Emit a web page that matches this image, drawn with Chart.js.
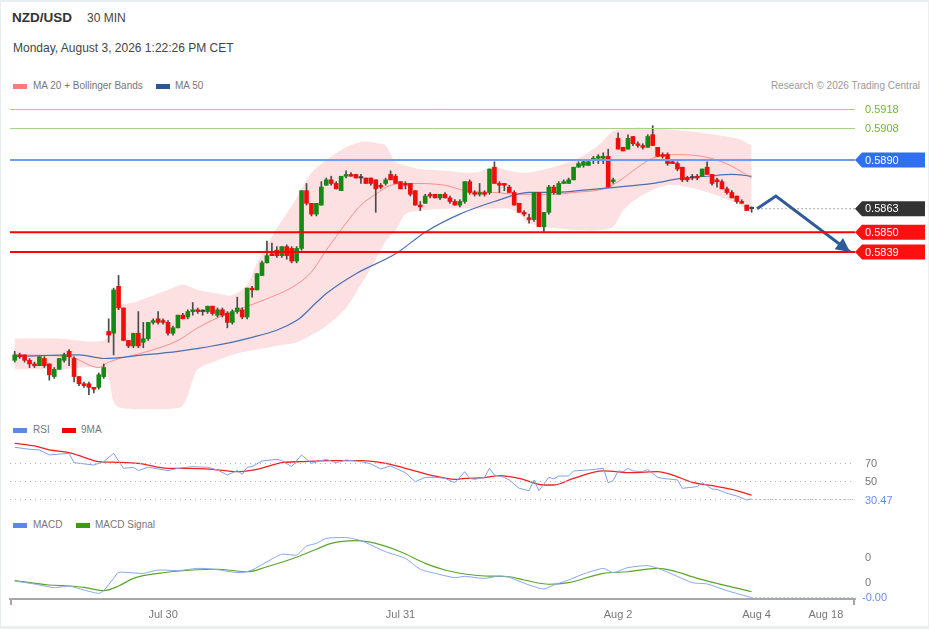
<!DOCTYPE html>
<html>
<head>
<meta charset="utf-8">
<script src="https://cdn.jsdelivr.net/npm/chart.js@4.4.1/dist/chart.umd.min.js"></script>
<style>
  body { margin: 0; background: #e9eef1; font-family: "Liberation Sans", Arial, sans-serif; }
  #frame { position: absolute; left: 1px; top: 2px; width: 927px; height: 624px; background: #fff; }
  #page { position: absolute; left: 0; top: 0; width: 929px; height: 629px; }
  .txt { position: absolute; white-space: nowrap; line-height: 1; }
  .sw { position: absolute; width: 14px; height: 5px; }
  canvas { position: absolute; left: 0; }
</style>
</head>
<body>
<div id="frame"></div>
<div id="page">
  <div class="txt" style="left:12px;top:11px;font-size:13.5px;font-weight:bold;color:#333">NZD/USD</div>
  <div class="txt" style="left:87px;top:12px;font-size:12px;color:#444">30 MIN</div>
  <div class="txt" style="left:13px;top:42px;font-size:12px;color:#444">Monday, August 3, 2026 1:22:26 PM CET</div>

  <div class="sw" style="left:13px;top:84px;background:#ff7b7b"></div>
  <div class="txt" style="left:33px;top:81px;font-size:10px;color:#777">MA 20 + Bollinger Bands</div>
  <div class="sw" style="left:156px;top:84px;background:#2f5597"></div>
  <div class="txt" style="left:175px;top:81px;font-size:10px;color:#777">MA 50</div>
  <div class="txt" style="right:9px;top:81px;font-size:10px;color:#999">Research © 2026 Trading Central</div>

  <canvas id="mainChart" width="929" height="318" style="top:97px"></canvas>

  <div class="sw" style="left:13px;top:428px;background:#5b87ea"></div>
  <div class="txt" style="left:33px;top:425px;font-size:10px;color:#777">RSI</div>
  <div class="sw" style="left:62px;top:428px;background:#ff0000"></div>
  <div class="txt" style="left:81px;top:425px;font-size:10px;color:#777">9MA</div>

  <canvas id="rsiChart" width="929" height="67" style="top:438px"></canvas>

  <div class="sw" style="left:13px;top:523px;background:#5b87ea"></div>
  <div class="txt" style="left:33px;top:520px;font-size:10px;color:#777">MACD</div>
  <div class="sw" style="left:76px;top:523px;background:#3c9a0e"></div>
  <div class="txt" style="left:95px;top:520px;font-size:10px;color:#777">MACD Signal</div>

  <canvas id="macdChart" width="929" height="92" style="top:535px"></canvas>
</div>
<script>
// ---- data (30 min candles, index 0..149) ----
const open = [
  0.5779,0.5782,0.5782,0.5779,0.5777,0.5776,0.5780,0.5777,0.5770,0.5774,
  0.5779,0.5784,0.5780,0.5770,0.5766,0.5766,0.5764,0.5764,0.5770,0.5795,
  0.5794,0.5820,0.5808,0.5790,0.5787,0.5794,0.5789,0.5791,0.5800,0.5802,
  0.5801,0.5800,0.5794,0.5797,0.5804,0.5803,0.5806,0.5807,0.5806,0.5806,
  0.5809,0.5804,0.5807,0.5805,0.5800,0.5806,0.5807,0.5803,0.5819,0.5818,
  0.5826,0.5833,0.5838,0.5840,0.5837,0.5842,0.5841,0.5834,0.5841,0.5873,
  0.5866,0.5860,0.5865,0.5876,0.5879,0.5877,0.5873,0.5881,0.5882,0.5882,
  0.5880,0.5880,0.5880,0.5879,0.5876,0.5877,0.5882,0.5881,0.5878,0.5877,
  0.5877,0.5873,0.5865,0.5866,0.5871,0.5871,0.5869,0.5871,0.5869,0.5867,
  0.5865,0.5867,0.5878,0.5872,0.5871,0.5872,0.5872,0.5886,0.5877,0.5877,
  0.5875,0.5872,0.5866,0.5861,0.5858,0.5857,0.5872,0.5853,0.5861,0.5875,
  0.5871,0.5877,0.5877,0.5879,0.5886,0.5887,0.5887,0.5890,0.5891,0.5891,
  0.5892,0.5878,0.5902,0.5897,0.5896,0.5903,0.5899,0.5898,0.5897,0.5904,
  0.5897,0.5893,0.5893,0.5889,0.5888,0.5886,0.5880,0.5880,0.5881,0.5881,
  0.5886,0.5882,0.5879,0.5878,0.5874,0.5872,0.5870,0.5867,0.5865,0.5863
];
const high = [
  0.5784,0.5783,0.5782,0.5780,0.5778,0.5781,0.5781,0.5777,0.5775,0.5780,
  0.5783,0.5785,0.5781,0.5770,0.5767,0.5767,0.5764,0.5772,0.5777,0.5802,
  0.5819,0.5826,0.5808,0.5790,0.5794,0.5806,0.5800,0.5800,0.5802,0.5806,
  0.5802,0.5801,0.5798,0.5804,0.5805,0.5807,0.5811,0.5808,0.5807,0.5809,
  0.5809,0.5808,0.5808,0.5806,0.5807,0.5814,0.5808,0.5819,0.5820,0.5827,
  0.5834,0.5845,0.5844,0.5842,0.5842,0.5843,0.5842,0.5842,0.5873,0.5877,
  0.5866,0.5866,0.5878,0.5880,0.5881,0.5878,0.5881,0.5884,0.5883,0.5882,
  0.5882,0.5880,0.5880,0.5879,0.5877,0.5880,0.5884,0.5882,0.5878,0.5878,
  0.5877,0.5873,0.5867,0.5871,0.5872,0.5871,0.5871,0.5872,0.5870,0.5868,
  0.5868,0.5878,0.5879,0.5873,0.5877,0.5873,0.5885,0.5889,0.5878,0.5877,
  0.5876,0.5873,0.5866,0.5862,0.5860,0.5872,0.5872,0.5861,0.5876,0.5876,
  0.5878,0.5879,0.5880,0.5886,0.5889,0.5890,0.5890,0.5892,0.5893,0.5894,
  0.5896,0.5880,0.5905,0.5897,0.5904,0.5903,0.5900,0.5899,0.5904,0.5909,
  0.5897,0.5894,0.5894,0.5890,0.5889,0.5886,0.5881,0.5882,0.5882,0.5885,
  0.5889,0.5882,0.5880,0.5879,0.5875,0.5873,0.5870,0.5868,0.5865,0.5864
];
const low = [
  0.5778,0.5780,0.5778,0.5775,0.5775,0.5776,0.5775,0.5768,0.5769,0.5774,
  0.5778,0.5776,0.5767,0.5765,0.5764,0.5760,0.5761,0.5763,0.5769,0.5789,
  0.5782,0.5807,0.5790,0.5786,0.5786,0.5786,0.5786,0.5790,0.5799,0.5799,
  0.5799,0.5793,0.5793,0.5797,0.5802,0.5802,0.5804,0.5805,0.5804,0.5805,
  0.5804,0.5803,0.5803,0.5797,0.5799,0.5805,0.5802,0.5802,0.5814,0.5818,
  0.5826,0.5833,0.5837,0.5836,0.5836,0.5835,0.5833,0.5833,0.5840,0.5865,
  0.5859,0.5859,0.5865,0.5876,0.5876,0.5874,0.5873,0.5880,0.5881,0.5880,
  0.5877,0.5877,0.5876,0.5861,0.5874,0.5876,0.5879,0.5877,0.5874,0.5874,
  0.5870,0.5865,0.5862,0.5866,0.5869,0.5869,0.5868,0.5869,0.5866,0.5865,
  0.5864,0.5866,0.5871,0.5870,0.5870,0.5870,0.5871,0.5877,0.5872,0.5873,
  0.5872,0.5865,0.5861,0.5859,0.5855,0.5856,0.5853,0.5850,0.5860,0.5871,
  0.5871,0.5877,0.5877,0.5879,0.5886,0.5886,0.5887,0.5888,0.5888,0.5888,
  0.5875,0.5877,0.5896,0.5895,0.5896,0.5898,0.5897,0.5896,0.5897,0.5898,
  0.5892,0.5891,0.5887,0.5888,0.5884,0.5878,0.5878,0.5879,0.5879,0.5881,
  0.5882,0.5876,0.5875,0.5874,0.5871,0.5869,0.5866,0.5866,0.5862,0.5861
];
const close = [
  0.5782,0.5781,0.5779,0.5777,0.5776,0.5781,0.5776,0.5771,0.5774,0.5780,
  0.5782,0.5781,0.5770,0.5766,0.5765,0.5764,0.5763,0.5771,0.5775,0.5793,
  0.5818,0.5808,0.5790,0.5787,0.5794,0.5787,0.5791,0.5800,0.5801,0.5800,
  0.5800,0.5794,0.5797,0.5804,0.5802,0.5806,0.5807,0.5806,0.5806,0.5809,
  0.5805,0.5807,0.5804,0.5800,0.5806,0.5808,0.5803,0.5819,0.5818,0.5827,
  0.5833,0.5837,0.5837,0.5837,0.5842,0.5837,0.5834,0.5841,0.5873,0.5866,
  0.5860,0.5866,0.5875,0.5879,0.5877,0.5874,0.5881,0.5882,0.5881,0.5880,
  0.5880,0.5877,0.5877,0.5874,0.5875,0.5879,0.5879,0.5877,0.5874,0.5876,
  0.5871,0.5865,0.5864,0.5870,0.5870,0.5869,0.5871,0.5869,0.5867,0.5865,
  0.5867,0.5878,0.5872,0.5871,0.5872,0.5871,0.5885,0.5877,0.5876,0.5876,
  0.5872,0.5865,0.5861,0.5860,0.5857,0.5872,0.5853,0.5861,0.5875,0.5872,
  0.5877,0.5878,0.5879,0.5886,0.5888,0.5889,0.5889,0.5891,0.5892,0.5892,
  0.5875,0.5879,0.5896,0.5895,0.5902,0.5899,0.5898,0.5897,0.5903,0.5898,
  0.5892,0.5892,0.5888,0.5888,0.5885,0.5879,0.5879,0.5880,0.5880,0.5885,
  0.5882,0.5877,0.5878,0.5874,0.5872,0.5869,0.5867,0.5866,0.5862,0.5863
];

// Bollinger bands, read at these candle indices
const bandIdx = [0,9,18,20,21,24,27,31,34,36,37,41,44,47,49,53,57,60,63,67,70,72,74,75,77,79,82,87,93,97,100,102,104,110,114,118,121,123,126,132,139,146,149];
const bbUpper = [0.5791,0.5791,0.5790,0.5799,0.5809,0.5811,0.5814,0.5818,0.5821,0.5819,0.5818,0.5816,0.5815,0.5821,0.5833,0.5852,0.5869,0.5883,0.5890,0.5897,0.5900,0.5900,0.5899,0.5898,0.5889,0.5887,0.5885,0.5884,0.5883,0.5886,0.5884,0.5883,0.5883,0.5887,0.5891,0.5898,0.5906,0.5907,0.5908,0.5907,0.5905,0.5902,0.5898];
const bbLower = [0.5774,0.5774,0.5774,0.5756,0.5753,0.5752,0.5752,0.5752,0.5754,0.5768,0.5774,0.5779,0.5782,0.5784,0.5785,0.5787,0.5789,0.5793,0.5798,0.5808,0.5821,0.5830,0.5840,0.5845,0.5851,0.5860,0.5862,0.5863,0.5863,0.5863,0.5863,0.5860,0.5855,0.5852,0.5851,0.5851,0.5853,0.5862,0.5869,0.5876,0.5873,0.5866,0.5861];

// moving averages: [candle index, value]
const ma20 = [[0,0.5782],[11,0.5781],[17,0.5775],[19,0.5778],[27,0.5784],[33,0.5790],[37,0.5797],[43,0.5805],[50,0.5812],[57,0.5821],[60,0.5828],[63,0.5840],[67,0.5855],[70,0.5865],[73,0.5871],[76,0.5876],[80,0.5877],[87,0.5876],[91,0.5873],[97,0.5872],[102,0.5871],[109,0.5871],[113,0.5872],[119,0.5874],[122,0.5878],[126,0.5886],[129,0.5891],[133,0.5893],[139,0.5892],[143,0.5889],[146,0.5885],[149,0.5880]];
const ma50 = [[0,0.5781],[13,0.5782],[18,0.5780],[26,0.5782],[33,0.5784],[38,0.5786],[47,0.5791],[57,0.5801],[61,0.5811],[63,0.5816],[69,0.5827],[77,0.5838],[83,0.5850],[90,0.5860],[97,0.5867],[104,0.5872],[109,0.5872],[114,0.5873],[122,0.5875],[129,0.5877],[135,0.5880],[140,0.5881],[145,0.5882],[149,0.5881]];

// RSI and its 9 period average
const rsi = [[0,87.8],[3,85.6],[5,84.8],[7,79.3],[11,81.1],[12,70.7],[16,68.1],[18,71.9],[20,81.1],[22,64.4],[24,65.6],[25,61.9],[27,65.6],[31,61.9],[33,64.4],[36,66.3],[39,65.6],[41,62.6],[43,57.0],[45,61.9],[46,57.8],[47,65.6],[48,66.3],[50,72.6],[53,74.4],[54,73.0],[56,66.3],[58,79.3],[60,70.0],[63,74.4],[65,70.7],[67,73.7],[70,71.9],[72,69.3],[74,63.7],[76,67.0],[79,59.6],[81,49.6],[83,54.4],[85,54.4],[87,53.3],[89,48.5],[91,60.7],[92,53.3],[93,52.2],[95,54.4],[96,64.4],[97,57.0],[99,54.4],[100,51.5],[102,42.2],[104,39.6],[105,51.5],[106,39.6],[108,54.4],[109,52.6],[110,55.9],[112,55.9],[113,61.5],[116,62.6],[119,64.4],[120,48.5],[121,50.7],[122,61.5],[123,60.7],[124,64.4],[125,61.5],[127,60.7],[128,63.3],[130,54.4],[131,53.3],[134,51.5],[135,42.2],[138,44.1],[139,48.5],[141,41.5],[142,41.1],[144,36.7],[146,33.7],[148,29.3],[149,30.47]];
const rsiMa = [[0,92.2],[4,89.3],[7,84.8],[11,81.9],[14,76.7],[17,71.9],[21,71.1],[25,70.0],[31,64.4],[35,64.4],[40,63.3],[45,60.7],[49,63.3],[54,70.7],[58,71.9],[64,73.0],[70,73.0],[75,70.0],[79,64.4],[84,57.0],[89,52.2],[91,53.3],[95,54.1],[98,56.3],[102,53.3],[107,45.9],[109,45.9],[113,53.3],[119,61.5],[125,59.6],[130,60.7],[133,57.0],[137,48.9],[141,45.2],[145,41.1],[149,34.8]];
const rsiLevels = [70, 50, 30];

// MACD and signal
const macd = [[0,0.000016],[4,-0.000008],[8,-0.000037],[11,-0.000024],[14,-0.000056],[17,-0.000083],[18,-0.000061],[20,0.000037],[21,0.000085],[26,0.000077],[29,0.000104],[33,0.000099],[37,0.000117],[40,0.000112],[44,0.000088],[46,0.000083],[48,0.000104],[51,0.00017],[54,0.00023],[57,0.000224],[59,0.000296],[61,0.000317],[63,0.000357],[67,0.000363],[70,0.000339],[75,0.00025],[79,0.000197],[82,0.00011],[85,0.000077],[89,0.000043],[91,0.000053],[95,0.000037],[98,0.000056],[100,0.000045],[104,-0.000016],[107,-0.000048],[109,-0.000016],[112,0.000024],[115,0.000072],[119,0.000117],[121,0.000083],[124,0.000123],[128,0.000139],[131,0.000104],[137,0.000003],[140,-0.000008],[144,-0.000061],[149,-0.000117]];
const macdSignal = [[0,0.000019],[7,-0.000016],[11,-0.000024],[14,-0.000035],[18,-0.000061],[21,-0.000024],[24,0.000037],[29,0.000077],[36,0.000104],[41,0.00011],[47,0.00009],[51,0.00013],[56,0.000192],[61,0.00027],[64,0.000317],[69,0.000339],[73,0.000317],[78,0.00025],[83,0.000157],[87,0.000104],[91,0.000072],[95,0.000056],[100,0.00005],[103,0.000024],[108,-0.00001],[112,0.000003],[119,0.000077],[124,0.00009],[130,0.000117],[133,0.000099],[138,0.000037],[149,-0.00007]];
const macdTicks = [0.0002, 0];

// levels, forecast and time axis
const greenLevels = [0.5918, 0.5908];
const blueLevel = 0.5890;
const redLevels = [0.5850, 0.5839];
const lastPrice = 0.5863;
const forecastIdx = [150.1, 153.9, 168.9];
const forecastPrice = [0.5863, 0.5870, 0.5839];
const tickPos = [30, 78, 122, 150, 164];
const tickText = ["Jul 30", "Jul 31", "Aug 2", "Aug 4", "Aug 18"];

const X_MIN = -0.95;
const X_MAX = 169.9;
const PAD = { left: 10, right: 74, top: 0, bottom: 0 };

Chart.defaults.font.family = "'Liberation Sans', Arial, sans-serif";
Chart.defaults.animation = false;

const pts = (pairs) => pairs.map((p) => ({ x: p[0], y: p[1] }));
const hidden = { type: "linear", min: X_MIN, max: X_MAX, display: false };

const hLine = function (ctx, x1, x2, y, color, width, dash) {
  ctx.save();
  ctx.strokeStyle = color;
  ctx.lineWidth = width;
  ctx.setLineDash(dash || []);
  ctx.beginPath();
  ctx.moveTo(x1, y);
  ctx.lineTo(x2, y);
  ctx.stroke();
  ctx.restore();
};

const tag = function (ctx, x, y, bg, text) {
  ctx.beginPath();
  ctx.moveTo(x, y);
  ctx.lineTo(x + 7, y - 7.5);
  ctx.lineTo(925, y - 7.5);
  ctx.lineTo(925, y + 7.5);
  ctx.lineTo(x + 7, y + 7.5);
  ctx.closePath();
  ctx.fillStyle = bg;
  ctx.fill();
  ctx.fillStyle = "#fff";
  ctx.fillText(text, x + 10, y + 0.5);
};

const mainDecor = {
  id: "mainDecor",
  afterDatasetsDraw(chart) {
    const { ctx, chartArea: a, scales } = chart;
    const y = scales.y;
    const x = scales.x;
    ctx.save();
    ctx.font = "11px 'Liberation Sans', Arial, sans-serif";
    ctx.textBaseline = "middle";
    greenLevels.forEach((v) => {
      const py = Math.round(y.getPixelForValue(v)) + 0.5;
      hLine(ctx, a.left, a.right, py, "#a6d189", 1);
      ctx.fillStyle = "#76b52c";
      ctx.fillText(v.toFixed(4), a.right + 10, py);
    });
    const pb = y.getPixelForValue(blueLevel);
    hLine(ctx, a.left, a.right, pb, "#6f9cf2", 2);
    tag(ctx, a.right, pb, "#2f6ff0", blueLevel.toFixed(4));
    redLevels.forEach((v) => {
      const py = y.getPixelForValue(v);
      hLine(ctx, a.left, a.right, py, "#ff0000", 2);
      tag(ctx, a.right, py, "#ff1010", v.toFixed(4));
    });
    const pl = y.getPixelForValue(lastPrice);
    hLine(ctx, x.getPixelForValue(close.length + 0.2), a.right, pl, "#555", 1, [1, 3]);
    tag(ctx, a.right, pl, "#333", lastPrice.toFixed(4));

    // forecast arrow head
    const n = forecastIdx.length;
    const x1 = x.getPixelForValue(forecastIdx[n - 2]);
    const y1 = y.getPixelForValue(forecastPrice[n - 2]);
    const x2 = x.getPixelForValue(forecastIdx[n - 1]);
    const y2 = y.getPixelForValue(forecastPrice[n - 1]);
    const ang = Math.atan2(y2 - y1, x2 - x1);
    const len = 14;
    const half = 7;
    const bx = x2 - len * Math.cos(ang);
    const by = y2 - len * Math.sin(ang);
    ctx.beginPath();
    ctx.moveTo(x2, y2);
    ctx.lineTo(bx + half * Math.sin(ang), by - half * Math.cos(ang));
    ctx.lineTo(bx - half * Math.sin(ang), by + half * Math.cos(ang));
    ctx.closePath();
    ctx.fillStyle = "#2f5b9a";
    ctx.fill();
    ctx.restore();
  },
};

const bodyColor = close.map((c, i) => (c > open[i] ? "#148a14" : c < open[i] ? "#f20c0c" : "#444"));

new Chart(document.getElementById("mainChart"), {
  type: "bar",
  data: {
    datasets: [
      {
        type: "line",
        label: "BB upper",
        data: bandIdx.map((v, i) => ({ x: v, y: bbUpper[i] })),
        borderColor: "transparent",
        borderWidth: 0,
        pointRadius: 0,
        tension: 0.3,
        fill: "+1",
        backgroundColor: "#fde1e2",
        order: 10,
      },
      {
        type: "line",
        label: "BB lower",
        data: bandIdx.map((v, i) => ({ x: v, y: bbLower[i] })),
        borderColor: "transparent",
        borderWidth: 0,
        pointRadius: 0,
        tension: 0.3,
        fill: false,
        order: 10,
      },
      {
        type: "line",
        label: "MA 50",
        data: pts(ma50),
        borderColor: "#4a6fb3",
        borderWidth: 1.2,
        pointRadius: 0,
        cubicInterpolationMode: "monotone",
        order: 6,
      },
      {
        type: "line",
        label: "MA 20",
        data: pts(ma20),
        borderColor: "#ff8c8c",
        borderWidth: 1,
        pointRadius: 0,
        cubicInterpolationMode: "monotone",
        order: 6,
      },
      {
        label: "wick",
        data: low.map((l, i) => ({ x: i, y: [l, high[i]] })),
        backgroundColor: "#4a4a4a",
        barThickness: 1,
        grouped: false,
        order: 4,
      },
      {
        label: "body",
        data: open.map((o, i) => ({ x: i, y: [o, close[i]] })),
        backgroundColor: bodyColor,
        barThickness: 4,
        minBarLength: 1.5,
        grouped: false,
        order: 3,
      },
      {
        type: "line",
        label: "forecast",
        data: forecastIdx.map((v, i) => ({ x: v, y: forecastPrice[i] })),
        borderColor: "#2f5b9a",
        borderWidth: 3,
        pointRadius: 0,
        tension: 0,
        order: 1,
      },
    ],
  },
  options: {
    responsive: false,
    layout: { padding: PAD },
    plugins: { legend: { display: false }, tooltip: { enabled: false } },
    scales: {
      x: { ...hidden, offset: false },
      y: { type: "linear", min: 0.57487, max: 0.59249, display: false },
    },
  },
  plugins: [mainDecor],
});

const rsiDecor = {
  id: "rsiDecor",
  afterDatasetsDraw(chart) {
    const { ctx, chartArea: a, scales } = chart;
    ctx.save();
    ctx.font = "11px 'Liberation Sans', Arial, sans-serif";
    ctx.textBaseline = "middle";
    rsiLevels.forEach((v) => {
      const py = Math.round(scales.y.getPixelForValue(v)) + 0.5;
      hLine(ctx, a.left, a.right, py, "#b5b5b5", 1, [1, 4]);
      if (v !== 30) {
        ctx.fillStyle = "#777";
        ctx.fillText(String(v), a.right + 10, py);
      }
    });
    const last = rsi[rsi.length - 1];
    const py = Math.round(scales.y.getPixelForValue(last[1])) + 0.5;
    hLine(ctx, scales.x.getPixelForValue(last[0]), a.right, py, "#7b9bef", 1, [1, 3]);
    ctx.fillStyle = "#6a8cf0";
    ctx.fillText(last[1].toFixed(2), a.right + 10, py + 1);
    ctx.restore();
  },
};

new Chart(document.getElementById("rsiChart"), {
  type: "line",
  data: {
    datasets: [
      {
        label: "RSI",
        data: pts(rsi),
        borderColor: "#7fa0ee",
        borderWidth: 1,
        pointRadius: 0,
        tension: 0,
      },
      {
        label: "9MA",
        data: pts(rsiMa),
        borderColor: "#f32020",
        borderWidth: 1.3,
        pointRadius: 0,
        cubicInterpolationMode: "monotone",
      },
    ],
  },
  options: {
    responsive: false,
    layout: { padding: PAD },
    plugins: { legend: { display: false }, tooltip: { enabled: false } },
    scales: {
      x: hidden,
      y: { type: "linear", min: 23.7, max: 98.1, display: false },
    },
  },
  plugins: [rsiDecor],
});

const macdDecor = {
  id: "macdDecor",
  afterDraw(chart) {
    const { ctx, chartArea: a, scales } = chart;
    ctx.save();
    ctx.font = "11px 'Liberation Sans', Arial, sans-serif";
    ctx.textBaseline = "middle";
    macdTicks.forEach((v) => {
      ctx.fillStyle = "#777";
      ctx.fillText(v.toFixed(0), a.right + 10, scales.y.getPixelForValue(v));
    });
    const last = macd[macd.length - 1];
    const py = scales.y.getPixelForValue(last[1]);
    hLine(ctx, scales.x.getPixelForValue(last[0]), a.right, py, "#7b9bef", 1, [1, 3]);
    ctx.fillStyle = "#6a8cf0";
    ctx.fillText(last[1].toFixed(2), a.right + 7, py);
    // end ticks of the time axis
    ctx.strokeStyle = "#a8a8a8";
    ctx.lineWidth = 2;
    ctx.beginPath();
    ctx.moveTo(a.left + 1, a.bottom);
    ctx.lineTo(a.left + 1, a.bottom + 6);
    ctx.moveTo(a.right - 1, a.bottom);
    ctx.lineTo(a.right - 1, a.bottom + 6);
    ctx.stroke();
    ctx.restore();
  },
};

new Chart(document.getElementById("macdChart"), {
  type: "line",
  data: {
    datasets: [
      {
        label: "MACD",
        data: pts(macd),
        borderColor: "#86a6ee",
        borderWidth: 1,
        pointRadius: 0,
        tension: 0.2,
      },
      {
        label: "MACD Signal",
        data: pts(macdSignal),
        borderColor: "#5aa62a",
        borderWidth: 1.2,
        pointRadius: 0,
        cubicInterpolationMode: "monotone",
      },
    ],
  },
  options: {
    responsive: false,
    layout: { padding: PAD },
    plugins: { legend: { display: false }, tooltip: { enabled: false } },
    scales: {
      x: {
        type: "linear",
        min: X_MIN,
        max: X_MAX,
        grid: { display: false, drawTicks: false },
        border: { display: true, color: "#a8a8a8", width: 2 },
        ticks: {
          color: "#777",
          font: { size: 11 },
          padding: 9,
          autoSkip: false,
          maxRotation: 0,
          callback: (v) => {
            const k = tickPos.indexOf(v);
            return k >= 0 ? tickText[k] : "";
          },
        },
        afterBuildTicks: (s) => {
          s.ticks = tickPos.map((v) => ({ value: v }));
        },
        afterFit: (s) => {
          s.height = 28;
        },
      },
      y: { type: "linear", min: -0.000128, max: 0.000384, display: false },
    },
  },
  plugins: [macdDecor],
});
</script>
</body>
</html>
